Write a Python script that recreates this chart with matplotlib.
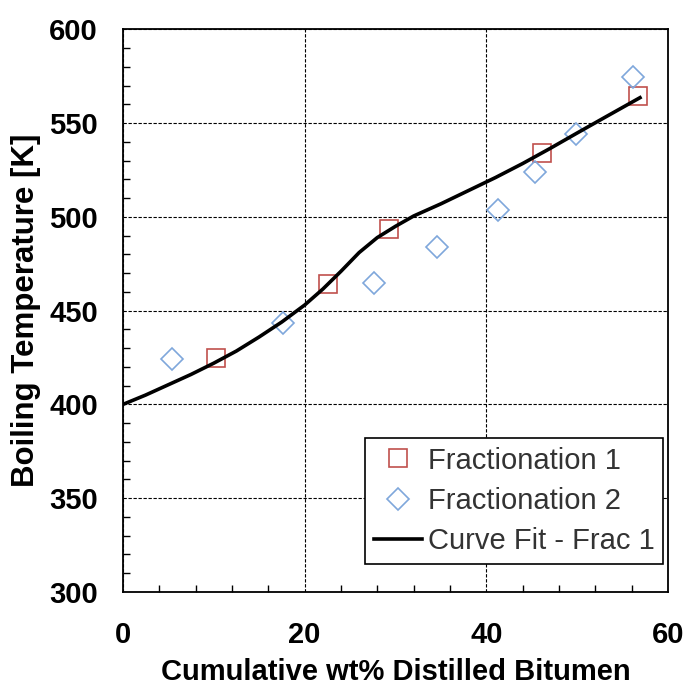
import matplotlib
matplotlib.use('Agg')
import matplotlib.pyplot as plt
from matplotlib.ticker import MultipleLocator

plt.rcParams['font.family'] = ['Liberation Sans', 'DejaVu Sans']

# Fractionation 1 (squares)
frac1_x = [10.3, 22.6, 29.3, 46.1, 56.7]
frac1_y = [424.8, 464.3, 493.6, 534.0, 564.5]

# Fractionation 2 (diamonds)
frac2_x = [5.4, 17.6, 27.6, 34.6, 41.3, 45.3, 49.9, 56.1]
frac2_y = [424.3, 443.5, 464.8, 484.0, 503.7, 524.0, 544.0, 574.7]

# curve fit of fractionation 1
fit_x = [0, 2.5, 5, 7.5, 10, 12.5, 15, 17.5, 20, 22, 24, 26, 28, 30, 32,
         35, 38, 41, 44, 47, 50, 53, 56.9]
fit_y = [400, 405, 410.5, 416, 422, 428.5, 436, 444, 453, 461.5, 471, 481,
         489, 495, 500.5, 507, 514, 521, 528.5, 536.5, 544.8, 553, 563.6]

fig = plt.figure(figsize=(6.86, 6.84), dpi=100)
ax = fig.add_axes([0.179, 0.1345, 0.795, 0.8225])

ax.plot(frac1_x, frac1_y, 's', markersize=12.5, markerfacecolor='none',
        markeredgecolor='#C0504D', markeredgewidth=1.2, label='Fractionation 1', zorder=3)
ax.plot(frac2_x, frac2_y, 'D', markersize=11.7, markerfacecolor='none',
        markeredgecolor='#7FA7DB', markeredgewidth=1.2, label='Fractionation 2', zorder=3)
ax.plot(fit_x, fit_y, '-', color='black', linewidth=2.6, label='Curve Fit - Frac 1', zorder=4)

ax.set_xlim(0, 60)
ax.set_ylim(300, 600)
ax.xaxis.set_major_locator(MultipleLocator(20))
ax.xaxis.set_minor_locator(MultipleLocator(4))
ax.yaxis.set_major_locator(MultipleLocator(50))
ax.yaxis.set_minor_locator(MultipleLocator(10))

# dashed grid only at the major ticks
ax.grid(True, which='major', color='black', linestyle=(0, (3, 1.5)), linewidth=0.8)
ax.tick_params(which='both', direction='in', top=False, right=False, width=1.0)
ax.tick_params(which='minor', length=5)
ax.tick_params(which='major', length=0)
ax.tick_params(axis='x', which='major', pad=21)
ax.tick_params(axis='y', which='major', pad=18)
for lab in ax.get_xticklabels() + ax.get_yticklabels():
    lab.set_fontsize(21)
    lab.set_fontweight('bold')

for s in ax.spines.values():
    s.set_linewidth(1.3)
    s.set_color('black')

ax.set_xlabel('Cumulative wt% Distilled Bitumen', fontsize=21, fontweight='bold', labelpad=6)
ax.set_ylabel('Boiling Temperature [K]', fontsize=22.5, fontweight='bold', labelpad=6)

leg = ax.legend(loc='lower right', bbox_to_anchor=(0.991, 0.05), borderaxespad=0,
                fontsize=21, fancybox=False, edgecolor='black', framealpha=1,
                handlelength=1.65, handletextpad=0.2, labelspacing=0.42,
                borderpad=0.3, numpoints=1)
leg.get_frame().set_linewidth(1.2)
for t in leg.get_texts():
    t.set_color('#333333')

fig.savefig('out.png', dpi=100)
